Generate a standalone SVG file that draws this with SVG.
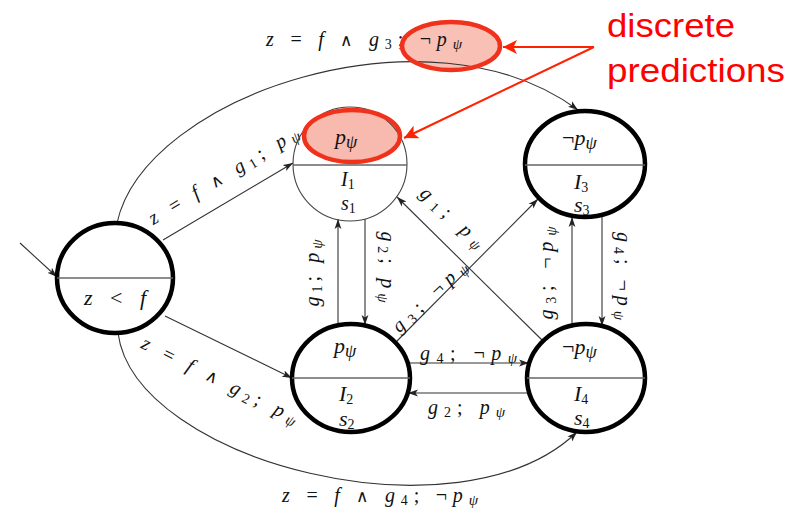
<svg xmlns="http://www.w3.org/2000/svg" width="796" height="515" viewBox="0 0 796 515">
<defs>
<style>
.t{font-family:"Liberation Serif","DejaVu Serif",serif;font-size:20px;font-style:italic;fill:#111}
.nd{font-size:22px}
.n{font-style:normal}
.w{font-family:"DejaVu Sans ExtraLight","DejaVu Sans","Liberation Serif",sans-serif;font-weight:200;font-style:normal;font-size:17px}
.sb{font-size:14px;font-style:normal}
.sp{font-size:15px}
.sq{font-size:18px}
.edge{fill:none;stroke:#333;stroke-width:1.1}
.node{fill:none;stroke:#000;stroke-width:4.5}
.thin{fill:none;stroke:#444;stroke-width:1.1}
.div{stroke:#666;stroke-width:1.3}
.hl{fill:#f8b9ae;stroke:none}
.hls{fill:none;stroke:#f0321c;stroke-width:4.5}
.red{stroke:#ff2200;stroke-width:2;fill:none}
.rt{font-family:"Liberation Sans",Arial,sans-serif;font-size:33px;fill:#ff0000}
</style>
<marker id="ah" viewBox="0 0 10 8" refX="10" refY="4" markerWidth="10" markerHeight="8" markerUnits="userSpaceOnUse" orient="auto"><path d="M0,0.6 L10,4 L0,7.4 L2.5,4 z" fill="#222"/></marker>
<marker id="rh" viewBox="0 0 14 14" refX="14" refY="7" markerWidth="14" markerHeight="14" markerUnits="userSpaceOnUse" orient="auto"><path d="M0,0 L14,7 L0,14 L3.5,7 z" fill="#ff2200"/></marker>
</defs>
<rect width="796" height="515" fill="#fff"/>

<g id="highlight-fills">
<ellipse class="hl" cx="451" cy="46" rx="49" ry="24" opacity="0.9"/>
<ellipse class="hl" cx="352" cy="136" rx="48" ry="26"/>
</g>

<g id="connectors">
<line class="edge" x1="20" y1="243" x2="57" y2="277" marker-end="url(#ah)"/>
<path class="edge" d="M117,223 C145,95 430,0 578,110" marker-end="url(#ah)"/>
<text class="t" x="266" y="46" textLength="196" lengthAdjust="spacing">z <tspan class="n">=</tspan> f <tspan class="w">∧</tspan> g<tspan class="sb" dy="3">3</tspan><tspan class="n" dy="-3">; ¬</tspan>p<tspan class="sp" dy="3">ψ</tspan></text>
<line class="edge" x1="163" y1="240" x2="293" y2="163" marker-end="url(#ah)"/>
<text class="t" transform="translate(227,181) rotate(-31)" text-anchor="middle" textLength="172" lengthAdjust="spacing">z <tspan class="n">=</tspan> f <tspan class="w">∧</tspan> g<tspan class="sb" dy="3">1</tspan><tspan class="n" dy="-3">; </tspan>p<tspan class="sp" dy="3">ψ</tspan></text>
<line class="edge" x1="165" y1="316" x2="292" y2="378" marker-end="url(#ah)"/>
<text class="t" transform="translate(217,386) rotate(26.6)" text-anchor="middle" textLength="172" lengthAdjust="spacing">z <tspan class="n">=</tspan> f <tspan class="w">∧</tspan> g<tspan class="sb" dy="3">2</tspan><tspan class="n" dy="-3">; </tspan>p<tspan class="sp" dy="3">ψ</tspan></text>
<path class="edge" d="M118,333 C135,462 460,545 577,432" marker-end="url(#ah)"/>
<text class="t" x="282" y="502" textLength="196" lengthAdjust="spacing">z <tspan class="n">=</tspan> f <tspan class="w">∧</tspan> g<tspan class="sb" dy="3">4</tspan><tspan class="n" dy="-3">; ¬</tspan>p<tspan class="sp" dy="3">ψ</tspan></text>

<line class="edge" x1="338" y1="326" x2="338" y2="219" marker-end="url(#ah)"/>
<text class="t" transform="translate(319,273) rotate(-90)" text-anchor="middle" textLength="67" lengthAdjust="spacing">g<tspan class="sb" dy="3">1</tspan><tspan class="n" dy="-3">; </tspan>p<tspan class="sp" dy="3">ψ</tspan></text>
<line class="edge" x1="365" y1="219" x2="365" y2="325" marker-end="url(#ah)"/>
<text class="t" transform="translate(381,267) rotate(90)" text-anchor="middle" textLength="71" lengthAdjust="spacing">g<tspan class="sb" dy="3">2</tspan><tspan class="n" dy="-3">; </tspan>p<tspan class="sp" dy="3">ψ</tspan></text>

<line class="edge" x1="572" y1="326" x2="572" y2="217" marker-end="url(#ah)"/>
<text class="t" transform="translate(553,273) rotate(-90)" text-anchor="middle" textLength="93" lengthAdjust="spacing">g<tspan class="sb" dy="3">3</tspan><tspan class="n" dy="-3">; ¬</tspan>p<tspan class="sp" dy="3">ψ</tspan></text>
<line class="edge" x1="602" y1="216" x2="602" y2="326" marker-end="url(#ah)"/>
<text class="t" transform="translate(617,276) rotate(90)" text-anchor="middle" textLength="88" lengthAdjust="spacing">g<tspan class="sb" dy="3">4</tspan><tspan class="n" dy="-3">; ¬</tspan>p<tspan class="sp" dy="3">ψ</tspan></text>

<line class="edge" x1="543" y1="341" x2="397" y2="197" marker-end="url(#ah)"/>
<text class="t" transform="translate(448,222) rotate(43)" text-anchor="middle" textLength="80" lengthAdjust="spacing">g<tspan class="sb" dy="3">1</tspan><tspan class="n" dy="-3">; </tspan>p<tspan class="sp" dy="3">ψ</tspan></text>
<line class="edge" x1="396" y1="342" x2="538" y2="199" marker-end="url(#ah)"/>
<text class="t" transform="translate(434,301) rotate(-43)" text-anchor="middle" textLength="95" lengthAdjust="spacing">g<tspan class="sb" dy="3">3</tspan><tspan class="n" dy="-3">; ¬</tspan>p<tspan class="sp" dy="3">ψ</tspan></text>

<line class="edge" x1="408" y1="363" x2="529" y2="363" marker-end="url(#ah)"/>
<text class="t" x="420" y="360" textLength="97" lengthAdjust="spacing">g<tspan class="sb" dy="3">4</tspan><tspan class="n" dy="-3">; ¬</tspan>p<tspan class="sp" dy="3">ψ</tspan></text>
<line class="edge" x1="529" y1="393" x2="408" y2="393" marker-end="url(#ah)"/>
<text class="t" x="428" y="414" textLength="77" lengthAdjust="spacing">g<tspan class="sb" dy="3">2</tspan><tspan class="n" dy="-3">; </tspan>p<tspan class="sp" dy="3">ψ</tspan></text>
</g>

<g id="node-init">
<ellipse class="node" cx="115" cy="278" rx="58" ry="55"/>
<line class="div" x1="57" y1="278" x2="173" y2="278"/>
<text class="t nd" x="115" y="305" text-anchor="middle" textLength="62" lengthAdjust="spacing">z <tspan class="n">&lt;</tspan> f</text>
</g>

<g id="node-I1">
<circle class="thin" cx="350" cy="164" r="57"/>
<line class="div" x1="293" y1="165" x2="407" y2="165"/>
<text class="t nd" x="335" y="144">p<tspan class="sq" dy="4">ψ</tspan></text>
<text class="t" x="341" y="186">I<tspan class="sb" dy="3">1</tspan></text>
<text class="t" x="341" y="210">s<tspan class="sb" dy="3">1</tspan></text>
</g>

<g id="node-I3">
<ellipse class="node" cx="585" cy="164" rx="60" ry="53"/>
<line class="div" x1="525" y1="165" x2="645" y2="165"/>
<text class="t nd" x="562" y="145"><tspan class="n">¬</tspan>p<tspan class="sq" dy="4">ψ</tspan></text>
<text class="t nd" x="574" y="189">I<tspan class="sb" dy="3">3</tspan></text>
<text class="t nd" x="574" y="212">s<tspan class="sb" dy="3">3</tspan></text>
</g>

<g id="node-I2">
<ellipse class="node" cx="351" cy="378" rx="59" ry="54"/>
<line class="div" x1="292" y1="378" x2="410" y2="378"/>
<text class="t nd" x="334" y="353">p<tspan class="sq" dy="4">ψ</tspan></text>
<text class="t nd" x="339" y="401">I<tspan class="sb" dy="3">2</tspan></text>
<text class="t nd" x="339" y="426">s<tspan class="sb" dy="3">2</tspan></text>
</g>

<g id="node-I4">
<ellipse class="node" cx="586" cy="378" rx="59" ry="54"/>
<line class="div" x1="527" y1="378" x2="645" y2="378"/>
<text class="t nd" x="562" y="354"><tspan class="n">¬</tspan>p<tspan class="sq" dy="4">ψ</tspan></text>
<text class="t nd" x="574" y="401">I<tspan class="sb" dy="3">4</tspan></text>
<text class="t nd" x="574" y="425">s<tspan class="sb" dy="3">4</tspan></text>
</g>

<g id="annotation">
<ellipse class="hls" cx="451" cy="46" rx="49" ry="24"/>
<ellipse class="hls" cx="352" cy="136" rx="48" ry="26"/>
<line class="red" x1="594" y1="47" x2="503" y2="47" marker-end="url(#rh)"/>
<line class="red" x1="594" y1="47" x2="404" y2="138" marker-end="url(#rh)"/>
<text class="rt" x="607" y="37" textLength="128" lengthAdjust="spacingAndGlyphs">discrete</text>
<text class="rt" x="607" y="82" textLength="178" lengthAdjust="spacingAndGlyphs">predictions</text>
</g>
</svg>
